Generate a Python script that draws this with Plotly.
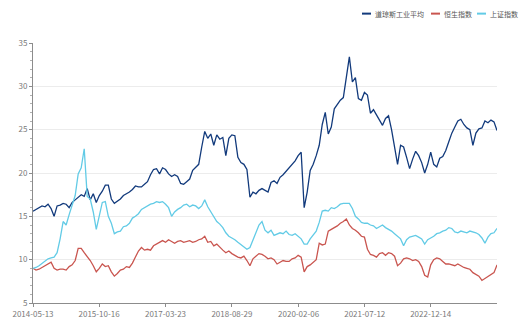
import pandas as pd
import plotly.graph_objects as go

# Series names and colours
names = ["道琼斯工业平均", "恒生指数", "上证指数"]
colors = ["#123a7c", "#c9554f", "#62cbe6"]

# Sampling dates across the whole period
dates = pd.date_range("2014-05-13", "2024-05-20", periods=155)

dow = [
    15.6, 15.8, 16.0, 16.2, 16.1, 16.4, 15.9, 15.0, 16.2, 16.3,
    16.5, 16.4, 16.0, 16.6, 16.9, 17.2, 17.5, 17.3, 18.2, 16.9,
    17.6, 16.6, 17.4, 17.9, 18.6, 18.6, 17.0, 16.5, 16.7, 17.0,
    17.4, 17.6, 17.8, 18.1, 18.5, 18.4, 18.4, 18.7, 19.0, 19.8,
    20.4, 20.5, 19.9, 20.6, 20.4, 19.9, 19.6, 19.8, 19.6, 18.8,
    18.7, 19.0, 19.3, 20.3, 20.6, 21.0, 23.0, 24.8, 24.0, 24.5,
    23.2, 24.4, 23.9, 24.1, 22.0, 24.0, 24.4, 24.3, 21.8, 21.2,
    21.0, 20.4, 17.2, 17.8, 17.6, 18.0, 18.2, 18.0, 17.8, 18.9,
    19.1, 18.8, 19.5, 19.8, 20.2, 20.6, 20.9, 21.4, 22.0, 22.4,
    16.0, 17.8, 20.3, 21.0, 22.0, 23.2, 25.6, 27.0, 24.5, 25.3,
    27.4, 27.9, 28.4, 28.7, 31.2, 33.4, 30.5, 31.0, 28.6, 28.4,
    29.3, 29.0, 26.9, 27.3, 26.7, 26.1, 25.5, 26.3, 26.6, 25.0,
    22.9, 21.0, 23.2, 23.0, 21.8, 20.5, 21.6, 22.5, 22.0, 21.2,
    20.0, 21.0, 22.4, 21.0, 20.7, 21.7, 21.9, 22.6, 23.6, 24.6,
    25.3, 26.0, 26.2, 25.6, 25.2, 25.0, 23.2, 24.6, 25.1, 25.2,
    26.0, 25.8, 26.1, 25.9, 24.9,
]

hsi = [
    9.0, 8.8, 8.9, 9.1, 9.3, 9.5, 9.7, 9.0, 8.8, 8.9,
    8.9, 8.8, 9.2, 9.4, 9.9, 11.3, 11.3, 10.8, 10.4, 9.9,
    9.3, 8.6, 9.0, 9.5, 9.2, 9.3, 8.6, 8.1, 8.4, 8.8,
    8.9, 9.2, 9.1, 9.6, 10.3, 11.0, 11.4, 11.1, 11.2, 11.1,
    11.6, 11.8, 12.0, 12.2, 12.0, 12.3, 12.1, 11.9, 12.1, 12.2,
    12.0, 12.1, 12.2, 12.0, 12.1, 12.3, 12.4, 12.7, 12.0, 12.1,
    11.6, 11.8, 11.4, 11.1, 10.8, 11.0, 10.7, 10.5, 10.3, 10.2,
    10.4, 9.9, 9.3, 10.1, 10.4, 10.7, 10.6, 10.4, 10.1, 10.2,
    10.0, 9.5, 9.7, 9.9, 9.8, 9.8, 10.1, 10.2, 10.5, 10.3,
    8.6, 9.2, 9.4, 9.7, 10.0, 11.9, 11.7, 11.8, 13.3, 13.5,
    13.7, 13.9, 14.2, 14.4, 14.7, 14.0, 13.6, 13.4, 13.1, 12.7,
    12.6, 11.2, 10.6, 10.5, 10.3, 10.7, 10.8, 10.5, 10.8, 10.7,
    10.4, 9.3, 9.6, 10.1, 10.2, 10.1, 9.9, 10.0, 9.8, 9.2,
    8.2, 8.0, 9.4, 10.0, 10.2, 10.1, 9.8, 9.5, 9.5, 9.4,
    9.3, 9.5, 9.3, 9.1, 9.0, 8.9, 8.5, 8.3, 8.1, 7.6,
    7.8, 8.1, 8.3, 8.5, 9.4,
]

sse = [
    9.0, 9.1, 9.3, 9.6, 9.9, 10.1, 10.2, 10.3, 10.8, 12.4,
    14.4, 14.0, 15.2, 16.2, 17.4, 19.9, 20.6, 22.8, 17.3, 17.0,
    15.5, 13.5, 15.2, 16.6, 16.7, 15.0, 14.2, 13.0, 13.2, 13.3,
    13.8, 13.9, 14.2, 14.8, 15.0, 15.3, 15.8, 16.0, 16.2, 16.4,
    16.5, 16.7, 16.6, 16.7, 16.4, 16.0, 15.0, 15.5, 15.8, 16.0,
    16.3, 16.4, 16.1, 16.3, 16.2, 15.9, 16.2, 16.9, 16.1, 15.5,
    15.0, 14.4, 14.1, 13.7, 13.1, 12.7, 12.5, 12.3, 12.0, 11.7,
    11.5, 11.2, 11.4, 12.3, 13.3, 14.0, 14.4, 13.4, 13.1, 13.4,
    12.8, 13.0, 13.1, 13.0, 13.3, 12.9, 12.8, 13.0, 12.7, 12.4,
    11.8, 11.8, 12.4, 12.9, 13.3, 14.3, 15.6, 15.7, 15.6, 16.0,
    15.9, 16.1, 16.4, 16.5, 16.5, 16.5, 15.9, 15.0, 14.7, 14.3,
    14.2, 14.2, 14.0, 13.9, 13.6, 13.8, 14.0, 13.7, 13.5, 13.3,
    13.0, 12.7, 12.4, 11.6, 12.3, 12.6, 12.7, 12.8, 12.6, 12.4,
    11.8, 12.3, 12.5, 12.7, 13.0, 13.1, 13.3, 13.4, 13.7, 13.6,
    13.2, 13.1, 13.3, 13.2, 13.1, 13.3, 13.2, 13.1, 12.9, 12.5,
    11.9, 12.6, 13.0, 13.1, 13.6,
]

tick_labels = ["2014-05-13", "2015-10-16", "2017-03-23", "2018-08-29",
               "2020-02-06", "2021-07-12", "2022-12-14"]

font_family = "Noto Sans CJK SC, Noto Sans, sans-serif"
axis_color = "#8c8c8c"
label_color = "#7a7a7a"

fig = go.Figure()
for name, color, values in zip(names, colors, [dow, hsi, sse]):
    fig.add_trace(go.Scatter(
        x=dates, y=values, name=name, mode="lines",
        line=dict(color=color, width=1.3),
        showlegend=False,
    ))

# Compact legend in the top-right corner: short line sample + label
plot_left, plot_w = 33, 464
legend_items_x = [362, 431, 477]
for (name, color, lx) in zip(names, colors, legend_items_x):
    fig.add_shape(
        type="line", xref="paper", yref="paper",
        x0=(lx - plot_left) / plot_w, x1=(lx + 9 - plot_left) / plot_w,
        y0=1.113, y1=1.113,
        line=dict(color=color, width=2),
    )
    fig.add_annotation(
        xref="paper", yref="paper",
        x=(lx + 11 - plot_left) / plot_w, y=1.113,
        xanchor="left", yanchor="middle", showarrow=False,
        text=name, font=dict(size=7, color="#555555", family=font_family),
    )

fig.update_layout(
    width=525, height=331,
    margin=dict(l=33, r=28, t=43, b=23),
    paper_bgcolor="white", plot_bgcolor="white",
    font=dict(family=font_family, size=8, color=label_color),
)

fig.update_xaxes(
    range=[dates[0], dates[-1]],
    tickvals=pd.to_datetime(tick_labels), ticktext=tick_labels,
    showgrid=False, zeroline=False,
    showline=True, linecolor=axis_color, linewidth=1,
    ticks="outside", ticklen=3, tickcolor=axis_color,
    tickfont=dict(size=8, color=label_color),
)
fig.update_yaxes(
    range=[5, 35], dtick=5,
    showgrid=True, gridcolor="#ececec", gridwidth=1,
    zeroline=False,
    showline=True, linecolor=axis_color, linewidth=1,
    ticks="outside", ticklen=3, tickcolor=axis_color,
    minor=dict(dtick=1, ticks="outside", ticklen=2, tickcolor="#b0b0b0", showgrid=False),
    tickfont=dict(size=8, color=label_color),
)

fig.write_html("out.html")
